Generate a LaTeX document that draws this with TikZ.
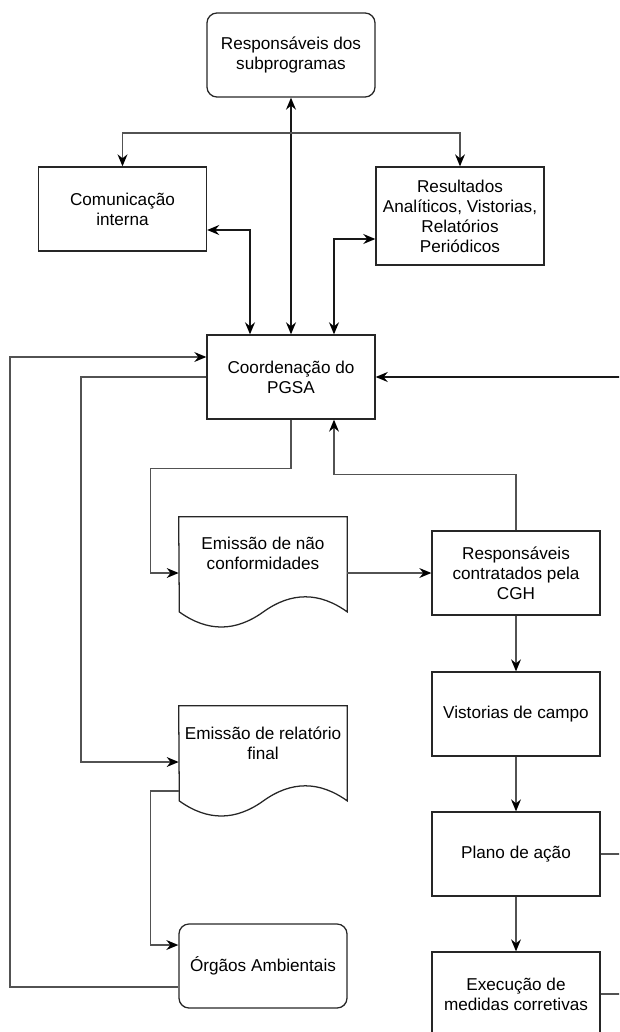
\documentclass[tikz,border=0pt]{standalone}
\usepackage{fontspec}
\setmainfont{Liberation Sans}
\usepackage{tikz}
\usetikzlibrary{arrows.meta,positioning,calc}

\begin{document}
\begin{tikzpicture}[x=0.025cm, y=-0.025cm,
    >={Stealth[length=8.5pt,width=7pt,color=black]},
    font=\fontsize{12.2}{14.2}\selectfont,
    box/.style={draw=black!85, line width=0.9pt, align=center, minimum width=4.2cm, minimum height=2.1cm, inner sep=1pt},
    rbox/.style={box, rounded corners=0.25cm},
    docbox/.style={minimum width=4.2cm, minimum height=2.8cm, inner sep=0pt},
    doctext/.style={align=center, inner sep=1pt},
    conn/.style={draw=black!68, line width=1.05pt},
    bold/.style={draw=black!90, line width=1.4pt}]

  \useasboundingbox (0,0) rectangle (619,1032);
  \clip (0,0) rectangle (619,1032);

  % Define nodes
  \node[rbox] (subp) at (291,55) {Responsáveis dos\\subprogramas};
  \node[box] (com) at (122.5,209) {Comunicação\\interna};
  \node[box, minimum height=2.45cm] (res) at (460,216) {Resultados\\Analíticos, Vistorias,\\Relatórios\\Periódicos};
  \node[box] (coord) at (291,377) {Coordenação do\\PGSA};
  \node[docbox] (nc) at (263,573) {};
  \node[doctext] (nctxt) at ($(nc)+(0,-20)$) {Emissão de não\\conformidades};
  \node[box] (rc) at (516,573) {Responsáveis\\contratados pela\\CGH};
  \node[box] (vist) at (516,714) {Vistorias de campo};
  \node[box] (plano) at (516,854) {Plano de ação};
  \node[box] (exec) at (516,994) {Execução de\\medidas corretivas};
  \node[docbox] (rf) at (263,762) {};
  \node[doctext] (rftxt) at ($(rf)+(0,-19)$) {Emissão de relatório\\final};
  \node[rbox] (org) at (263,966) {Órgãos Ambientais};

  % Document outlines
  \draw[draw=black!85, line width=0.9pt] (nc.north west) -- (nc.north east) -- ++(0,95.2)
    .. controls +(-28,-20.13) and +(28,-20.13) .. ++(-84,0)
    .. controls +(-28,20.13) and +(28,20.13) .. ++(-84,0) -- cycle;
  \draw[draw=black!85, line width=0.9pt] (rf.north west) -- (rf.north east) -- ++(0,95.2)
    .. controls +(-28,-20.13) and +(28,-20.13) .. ++(-84,0)
    .. controls +(-28,20.13) and +(28,20.13) .. ++(-84,0) -- cycle;

  \coordinate (split) at (291,133);
  \coordinate (rx) at (660,377);

  % Draw arrows
  \draw[bold, <->] (coord.north) -- (subp.south);
  \draw[conn, ->] (split) -| (com.north);
  \draw[conn, ->] (split) -| (res.north);
  \draw[bold, <->] ($(coord.north)+(-41,0)$) |- ($(com.east)+(0,21)$);
  \draw[bold, <->] ($(coord.north)+(43,0)$) |- ($(res.west)+(0,23)$);

  \draw[conn, ->] ($(org.west)+(0,21)$) -| (10,357) -- ($(coord.west)+(0,-20)$);
  \draw[conn, ->] (coord.west) -| (81,500) |- (rf.west);
  \draw[conn, ->] (coord.south) -- ++(0,49) -| ($(nc.west)+(-28,0)$) -- (nc.west);
  \draw[conn, ->] (nc.east) -- (rc.west);
  \draw[conn, ->] (rc.north) -- ++(0,-56) -| ($(coord.south)+(43,0)$);
  \draw[conn, ->] ($(rf.west)+(0,29)$) -| ($(org.west)+(-28,-21)$) -- ($(org.west)+(0,-21)$);

  \draw[conn, ->] (rc) -- (vist);
  \draw[conn, ->] (vist) -- (plano);
  \draw[conn, ->] (plano) -- (exec);
  \draw[conn] (plano.east) -| (rx);
  \draw[conn] (exec.east) -| (rx);
  \draw[bold, ->] (rx) -- (coord.east);
\end{tikzpicture}
\end{document}
